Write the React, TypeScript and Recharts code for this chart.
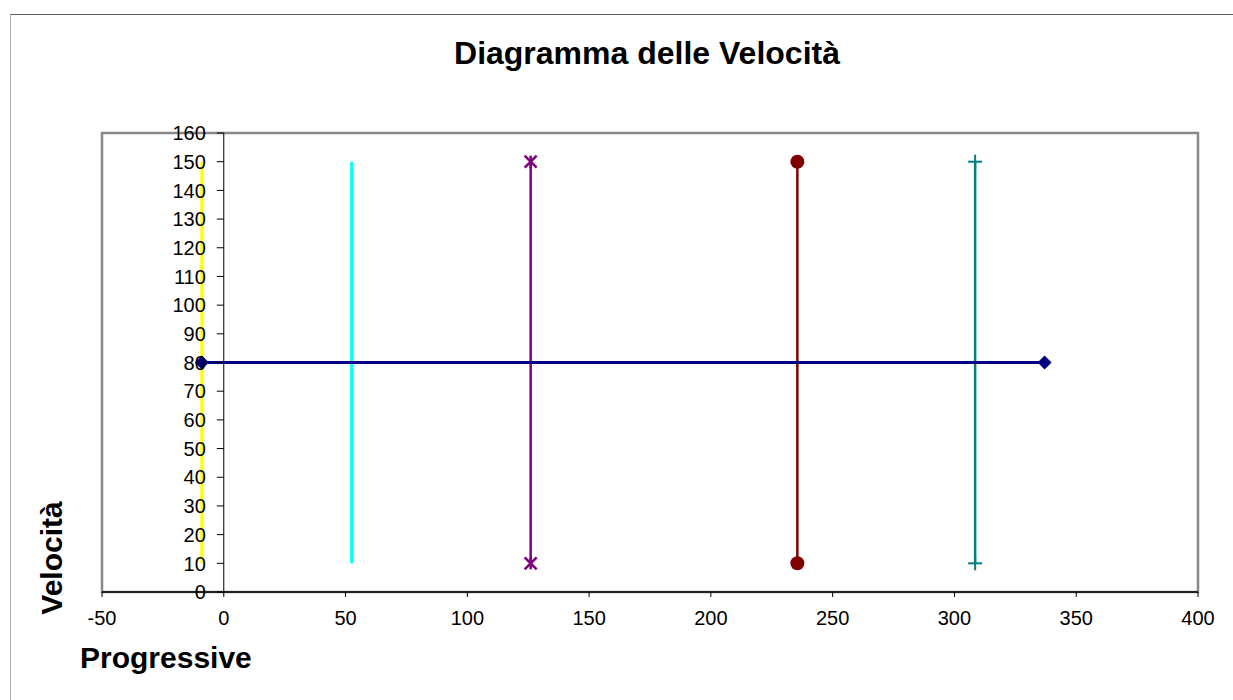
import { LineChart, Line, XAxis, YAxis, ReferenceLine, ReferenceArea } from 'recharts';

// Progressive (x) ticks and Velocità (y) ticks
const X_TICKS = [-50, 0, 50, 100, 150, 200, 250, 300, 350, 400];
const Y_TICKS = [0, 10, 20, 30, 40, 50, 60, 70, 80, 90, 100, 110, 120, 130, 140, 150, 160];

// each series is a pair of points
const yellowSeries = [{ x: -9, v: 10 }, { x: -9, v: 150 }];
const cyanSeries = [{ x: 52.5, v: 10 }, { x: 52.5, v: 150 }];
const purpleSeries = [{ x: 126, v: 10 }, { x: 126, v: 150 }];
const redSeries = [{ x: 235.5, v: 10 }, { x: 235.5, v: 150 }];
const tealSeries = [{ x: 308.5, v: 10 }, { x: 308.5, v: 150 }];
const navySeries = [{ x: -9, v: 80 }, { x: 337, v: 80 }];

const W = 1233;
const H = 700;
const Y_AXIS_W = 2;
const MARGIN = { top: 133, right: 35, bottom: 68, left: 102 - Y_AXIS_W };
const X_AXIS_H = 40;
const PLOT_W = W - MARGIN.left - Y_AXIS_W - MARGIN.right;
const X_MIN = X_TICKS[0];
const X_MAX = X_TICKS[X_TICKS.length - 1];
// the value axis crosses at x = 0, inside the plot
const ZERO_OFFSET = ((0 - X_MIN) / (X_MAX - X_MIN)) * PLOT_W;

const FONT = '"Liberation Sans", Arial, sans-serif';

function renderYTick(props: any) {
  const { x, y, payload } = props;
  const ax = x + ZERO_OFFSET;
  return (
    <g key={`yt${payload.value}`}>
      <line x1={ax - 7} x2={ax} y1={y} y2={y} stroke="#000" strokeWidth={1} />
      <text x={ax - 18} y={y} dy="0.36em" textAnchor="end" fontSize={20} fontFamily={FONT} fill="#000">
        {payload.value}
      </text>
    </g>
  );
}

const diamond = (color: string) => (p: any) => {
  const { cx, cy, index } = p;
  const r = 7;
  return (
    <path key={`d${index}`} d={`M${cx},${cy - r}L${cx + r},${cy}L${cx},${cy + r}L${cx - r},${cy}Z`} fill={color} />
  );
};

const circle = (color: string) => (p: any) => {
  const { cx, cy, index } = p;
  return <circle key={`c${index}`} cx={cx} cy={cy} r={7} fill={color} />;
};

const star = (color: string) => (p: any) => {
  const { cx, cy, index } = p;
  const r = 6;
  return (
    <g key={`s${index}`} stroke={color} strokeWidth={2.5}>
      <line x1={cx - r} y1={cy - r} x2={cx + r} y2={cy + r} />
      <line x1={cx - r} y1={cy + r} x2={cx + r} y2={cy - r} />
      <line x1={cx} y1={cy - r} x2={cx} y2={cy + r} />
    </g>
  );
};

const plus = (color: string) => (p: any) => {
  const { cx, cy, index } = p;
  const r = 7;
  return (
    <g key={`p${index}`} stroke={color} strokeWidth={2}>
      <line x1={cx - r} y1={cy} x2={cx + r} y2={cy} />
      <line x1={cx} y1={cy - r} x2={cx} y2={cy + r} />
    </g>
  );
};

export default function App() {
  return (
    <div
      style={{
        position: 'absolute',
        left: 0,
        top: 0,
        width: W,
        height: H,
        background: '#fff',
        overflow: 'hidden',
        fontFamily: FONT,
      }}
    >
      <div
        style={{
          position: 'absolute',
          left: 10,
          top: 14,
          right: -2,
          bottom: -2,
          borderTop: '1.5px solid #5a5a5a',
          borderLeft: '1.5px solid #b0b0b0',
        }}
      />
      <LineChart width={W} height={H} margin={MARGIN}>
        <XAxis
          dataKey="x"
          type="number"
          domain={[X_MIN, X_MAX]}
          ticks={X_TICKS}
          allowDataOverflow
          height={X_AXIS_H}
          tickSize={5}
          tickMargin={14}
          axisLine={{ stroke: '#000', strokeWidth: 1.5 }}
          tickLine={{ stroke: '#000' }}
          tick={{ fontSize: 20, fill: '#000', fontFamily: FONT }}
        />
        <YAxis
          type="number"
          domain={[0, 160]}
          ticks={Y_TICKS}
          interval={0}
          allowDataOverflow
          width={Y_AXIS_W}
          tickSize={0}
          tickMargin={0}
          axisLine={false}
          tickLine={false}
          tick={renderYTick}
        />
        <ReferenceArea
          x1={X_MIN}
          x2={X_MAX}
          y1={0}
          y2={160}
          fill="none"
          fillOpacity={0}
          stroke="#888"
          strokeWidth={2.5}
        />
        <ReferenceLine x={0} stroke="#000" strokeWidth={1} />
        <Line data={yellowSeries} dataKey="v" stroke="#ffff00" strokeWidth={3} dot={false} isAnimationActive={false} />
        <Line data={cyanSeries} dataKey="v" stroke="#00ffff" strokeWidth={3} dot={false} isAnimationActive={false} />
        <Line data={purpleSeries} dataKey="v" stroke="#800080" strokeWidth={2.5} dot={star('#800080')} isAnimationActive={false} />
        <Line data={redSeries} dataKey="v" stroke="#800000" strokeWidth={2.5} dot={circle('#800000')} isAnimationActive={false} />
        <Line data={tealSeries} dataKey="v" stroke="#008080" strokeWidth={2.5} dot={plus('#008080')} isAnimationActive={false} />
        <Line data={navySeries} dataKey="v" stroke="#000080" strokeWidth={3} dot={diamond('#000080')} isAnimationActive={false} />
      </LineChart>
      <div
        style={{
          position: 'absolute',
          left: 447,
          top: 37,
          width: 400,
          textAlign: 'center',
          fontSize: 32,
          lineHeight: '32px',
          fontWeight: 'bold',
          whiteSpace: 'nowrap',
        }}
      >
        Diagramma delle Velocità
      </div>
      <div
        style={{
          position: 'absolute',
          left: 80,
          top: 643,
          fontSize: 30,
          lineHeight: '30px',
          fontWeight: 'bold',
          whiteSpace: 'nowrap',
        }}
      >
        Progressive
      </div>
      <div
        style={{
          position: 'absolute',
          left: 52 - 100,
          top: 558 - 15,
          width: 200,
          height: 30,
          textAlign: 'center',
          fontSize: 30,
          lineHeight: '30px',
          fontWeight: 'bold',
          whiteSpace: 'nowrap',
          transform: 'rotate(-90deg)',
        }}
      >
        Velocità
      </div>
    </div>
  );
}
